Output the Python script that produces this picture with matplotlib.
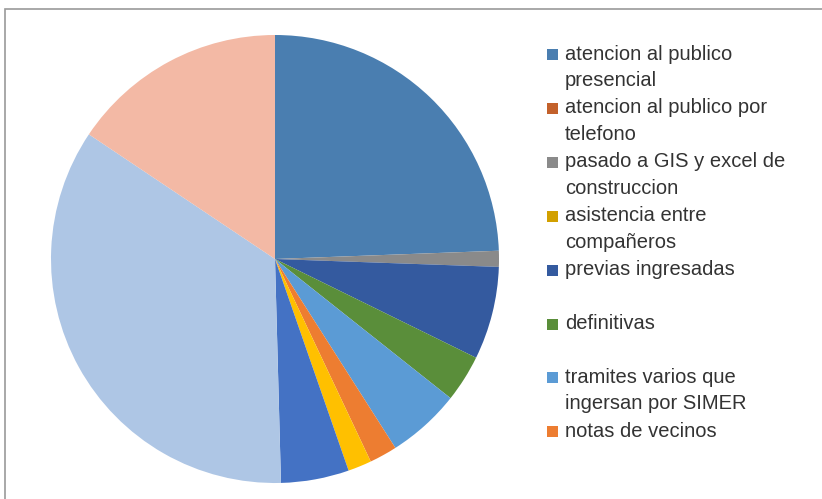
import matplotlib
matplotlib.use("Agg")
import matplotlib.pyplot as plt
from matplotlib.patches import Rectangle

# porcentajes (sentido horario desde las 12)
categorias = [
    "atencion al publico presencial",
    "atencion al publico por telefono",
    "pasado a GIS y excel de construccion",
    "asistencia entre compañeros",
    "previas ingresadas",
    "definitivas",
    "tramites varios que ingersan por SIMER",
    "notas de vecinos",
    "otros 1",
    "otros 2",
    "otros 3",
    "otros 4",
]
valores = [24.4, 0, 1.15, 0, 6.7, 3.4, 5.3, 2.0, 1.7, 4.9, 34.8, 15.6]
colores = ["#4a7eb0", "#c3612b", "#8a8a8a", "#d2a000", "#345a9f", "#5a8e3a",
           "#5b9bd5", "#ed7d31", "#ffc000", "#4472c4", "#aec6e5", "#f3b9a5"]

# texto de la leyenda (solo se ven 8 entradas, el resto queda cortado)
leyenda = [
    ["atencion al publico", "presencial"],
    ["atencion al publico por", "telefono"],
    ["pasado a GIS y excel de", "construccion"],
    ["asistencia entre", "compañeros"],
    ["previas ingresadas"],
    ["definitivas"],
    ["tramites varios que", "ingersan por SIMER"],
    ["notas de vecinos"],
]

W, H = 822, 499
fig = plt.figure(figsize=(W / 100, H / 100), dpi=100)

# marco gris del grafico
fig.patches.append(Rectangle((5 / W, -0.1), 1.2, (H - 9) / H + 0.1,
                             transform=fig.transFigure, fill=False,
                             edgecolor="#9a9a9a", linewidth=1.2))

cx, cy, r = 275, 259, 224
ax = fig.add_axes([(cx - r) / W, (H - cy - r) / H, 2 * r / W, 2 * r / H])
ax.pie(valores, colors=colores, startangle=90, counterclock=False,
       radius=1, wedgeprops=dict(linewidth=0))
ax.set_xlim(-1, 1)
ax.set_ylim(-1, 1)
ax.set_aspect("equal")
ax.axis("off")

# leyenda dibujada a mano
y0, paso, linea = 54, 53.9, 26.5
for i, lineas in enumerate(leyenda):
    yc = y0 + i * paso
    fig.patches.append(Rectangle((547 / W, (H - yc - 6) / H), 11 / W, 11 / H,
                                 transform=fig.transFigure,
                                 facecolor=colores[i], edgecolor="none"))
    for k, t in enumerate(lineas):
        fig.text(565 / W, (H - yc - k * linea) / H, t, fontsize=14.5,
                 family="Liberation Sans", color="#333333", va="center",
                 ha="left")

fig.savefig("out.png", dpi=100)
